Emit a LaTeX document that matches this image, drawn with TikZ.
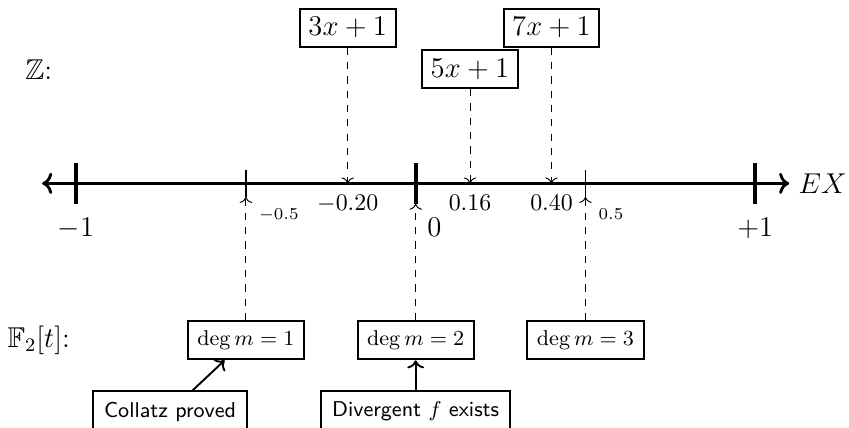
\documentclass[tikz,border=0pt]{standalone}
\usepackage{amsmath, amssymb}
\usetikzlibrary{
  positioning,
  arrows.meta
}
\tikzset{
  mapbox/.style   = {rectangle, draw, thick, font=\large, inner sep=3.6pt},
  degbox/.style   = {rectangle, draw, thick, font=\small, inner sep=4pt},
  claim/.style    = {rectangle, draw, thick, font=\small\sffamily,
                     inner sep=4.5pt},
  proj/.style     = {->, dashed, thin},
  impl/.style     = {->, thick},
  tickmajor/.style= {line width=1.6pt},
  tickminor/.style= {thick},
  ticklabel/.style= {font=\large},
  rowlabel/.style = {font=\large}
}

\begin{document}
\begin{tikzpicture}
\useasboundingbox (-6.12,-3.59) rectangle (6.38,2.70);

% the axis
\draw[<->, very thick] (-5.5,0) -- (5.5,0) node[right, font=\large] (ex) {$EX$};
\foreach \x/\n in {-5/m, 0/z, 5/p}
  \draw[tickmajor] (\x,0.3) -- (\x,-0.3) coordinate (t\n);
\foreach \x/\n in {-2.5/l, 2.5/r}
  \draw[tickminor] (\x,0.2) -- (\x,-0.2) coordinate (t\n);

\node[ticklabel, below=0.08cm of tm] (lm) {$-1$};
\node[ticklabel, below right=0.08cm and 0.05cm of tz] (lz) {$0$};
\node[ticklabel, below=0.08cm of tp] (lp) {$+1$};
\node[font=\scriptsize, below right=0.05cm and 0.07cm of tl] (ll) {$-0.5$};
\node[font=\scriptsize, below right=0.05cm and 0.07cm of tr] (lr) {$0.5$};

% integer maps
\coordinate (p3) at (-1,0);
\coordinate (p5) at (0.8,0);
\coordinate (p7) at (2,0);
\node[below=0.05cm of p3] (v3) {$-0.20$};
\node[below=0.05cm of p5] (v5) {$0.16$};
\node[below=0.05cm of p7] (v7) {$0.40$};

\node[rowlabel] (zz) at (-5.55,1.67) {$\mathbb{Z}$:};
\node[mapbox] (m3) at (-1,2.29) {$3x+1$};
\node[mapbox] (m5) at (0.8,1.68) {$5x+1$};
\node[mapbox] (m7) at (2,2.29) {$7x+1$};
\draw[proj] (m3) -- (p3);
\draw[proj] (m5) -- (p5);
\draw[proj] (m7) -- (p7);

% polynomial side
\node[rowlabel] (ff) at (-5.55,-2.31) {$\mathbb{F}_2[t]$:};
\node[degbox] (d1) at (-2.5,-2.31) {$\deg m = 1$};
\node[degbox] (d2) at (0,-2.31) {$\deg m = 2$};
\node[degbox] (d3) at (2.5,-2.31) {$\deg m = 3$};
\draw[proj] (d1) -- (tl);
\draw[proj] (d2) -- (tz);
\draw[proj] (d3) -- (tr);

\node[claim, below=0.44cm of d2] (div) {Divergent $f$ exists};
\node[claim, left=1.07cm of div] (col) {Collatz proved};
\draw[impl] (col) -- (d1);
\draw[impl] (div) -- (d2);
\end{tikzpicture}
\end{document}
